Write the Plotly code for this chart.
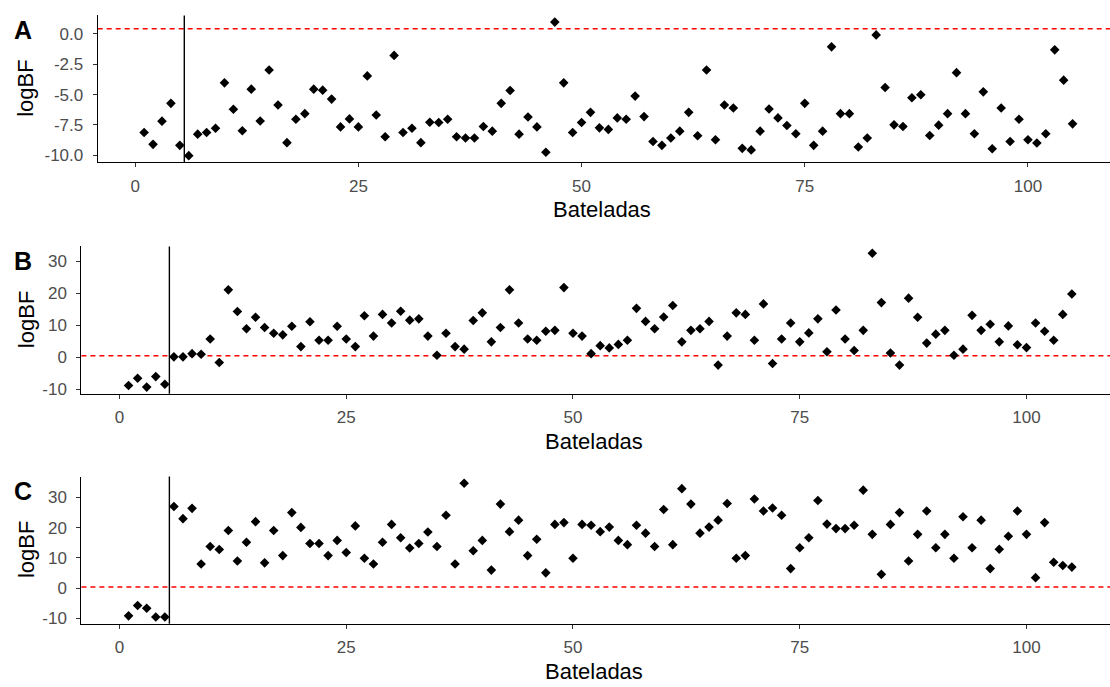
import plotly.graph_objects as go

# ---------------- data ----------------
batch = list(range(1, 106))

logbf_A = [-8.12, -9.10, -7.19, -5.72, -9.18, -10.03, -8.26, -8.12, -7.77, -4.03,
           -6.21, -7.98, -4.55, -7.17, -2.97, -5.86, -8.96, -7.03, -6.57, -4.55,
           -4.63, -5.37, -7.66, -7.00, -7.66, -3.46, -6.68, -8.47, -1.77, -8.12,
           -7.77, -8.96, -7.28, -7.30, -7.03, -8.47, -8.58, -8.58, -7.63, -8.01,
           -5.72, -4.66, -8.26, -6.84, -7.66, -9.75, 0.98, -4.03, -8.12, -7.30,
           -6.46, -7.74, -7.87, -6.92, -7.03, -5.12, -6.81, -8.86, -9.18, -8.58,
           -8.01, -6.46, -8.39, -2.97, -8.72, -5.86, -6.10, -9.43, -9.56, -8.01,
           -6.19, -6.92, -7.55, -8.23, -5.72, -9.18, -8.01, -1.06, -6.57, -6.57,
           -9.32, -8.58, -0.08, -4.41, -7.49, -7.63, -5.26, -5.01, -8.37, -7.52,
           -6.57, -3.19, -6.57, -8.23, -4.77, -9.46, -6.10, -8.86, -7.03, -8.72,
           -8.99, -8.23, -1.31, -3.81, -7.41]

logbf_B = [-8.9, -6.6, -9.4, -6.1, -8.5, 0.1, 0.1, 1.1, 0.9, 5.7,
           -1.7, 21.1, 14.3, 8.9, 12.5, 9.3, 7.5, 7.0, 9.7, 3.3,
           11.1, 5.3, 5.3, 9.7, 5.7, 3.3, 13.0, 6.6, 13.4, 10.7,
           14.4, 11.6, 12.0, 6.6, 0.6, 7.5, 3.3, 2.5, 11.5, 13.9,
           4.8, 9.3, 21.1, 10.7, 5.7, 5.3, 8.1, 8.4, 21.8, 7.5,
           6.6, 1.1, 3.6, 2.9, 4.0, 5.3, 15.3, 11.2, 8.9, 12.6,
           16.2, 4.8, 8.4, 8.9, 11.2, -2.5, 6.6, 13.9, 13.4, 5.3,
           16.7, -2.0, 5.7, 10.7, 4.8, 7.6, 12.0, 1.7, 14.8, 5.7,
           2.1, 8.4, 32.6, 17.1, 1.3, -2.5, 18.5, 12.5, 4.4, 7.2,
           8.4, 0.6, 2.5, 13.1, 8.4, 10.3, 4.8, 9.8, 3.9, 3.0,
           10.7, 8.1, 5.3, 13.4, 19.8]

logbf_C = [-9.1, -5.7, -6.6, -9.5, -9.5, 27.0, 23.0, 26.4, 8.0, 13.8,
           12.8, 19.1, 9.0, 15.2, 22.0, 8.4, 19.1, 10.8, 25.0, 20.1,
           14.8, 14.8, 10.8, 15.8, 11.8, 20.6, 9.9, 8.0, 15.2, 21.1,
           16.7, 13.3, 14.8, 18.6, 13.8, 24.1, 8.0, 34.7, 12.4, 15.8,
           6.0, 27.8, 18.7, 22.5, 10.8, 16.2, 5.1, 21.1, 21.7, 9.9,
           21.1, 20.8, 18.7, 20.2, 15.8, 14.4, 20.8, 18.2, 13.8, 26.0,
           14.4, 32.9, 27.8, 18.2, 20.2, 22.5, 28.0, 9.9, 10.8, 29.5,
           25.5, 26.5, 24.1, 6.5, 13.4, 16.7, 29.0, 21.2, 19.7, 19.7,
           20.8, 32.4, 17.8, 4.6, 21.1, 25.0, 9.0, 17.8, 25.5, 13.4,
           17.8, 9.9, 23.6, 13.4, 22.5, 6.5, 12.9, 17.2, 25.5, 17.8,
           3.5, 21.7, 8.6, 7.5, 7.0]

panel_labels = ["A", "B", "C"]
x_ticks = [0, 25, 50, 75, 100]
y_ticks_A = [-10, -7.5, -5, -2.5, 0]
y_ticktext_A = ["-10.0", "-7.5", "-5.0", "-2.5", "0.0"]
y_ticks_BC = [-10, 0, 10, 20, 30]
y_ticktext_BC = ["-10", "0", "10", "20", "30"]
threshold = 0.43      # red dashed line
cutoff_batch = 5.5    # black vertical line
x_title = "Bateladas"
y_title = "logBF"

# ---------------- layout geometry (pixels) ----------------
W, H = 1110, 687
FONT = "Liberation Sans, Arial, sans-serif"
panels = [
    dict(vals=logbf_A, left=97.7, top=15.5, bottom=163.5, tv=y_ticks_A, tt=y_ticktext_A),
    dict(vals=logbf_B, left=81.4, top=248.3, bottom=396.7, tv=y_ticks_BC, tt=y_ticktext_BC),
    dict(vals=logbf_C, left=81.4, top=480.0, bottom=628.3, tv=y_ticks_BC, tt=y_ticktext_BC),
]
full_right = 1119.0   # where the un-cropped panel would end
vis_right = 1110.0

def px_x(p):
    return p / W

def px_y(p):
    return 1 - p / H

fig = go.Figure()
annotations = []
shapes = []

xmin, xmax = min(batch), max(batch)
xspan = xmax - xmin
x_lo = xmin - 0.05 * xspan
x_hi = xmax + 0.05 * xspan

for i, p in enumerate(panels):
    n = "" if i == 0 else str(i + 1)
    xa, ya = "x" + n, "y" + n
    vals = p["vals"]
    vmin, vmax = min(vals + [threshold]), max(vals + [threshold])
    span = vmax - vmin
    y_lo, y_hi = vmin - 0.05 * span, vmax + 0.05 * span
    x_vis_hi = x_lo + (x_hi - x_lo) * (vis_right - p["left"]) / (full_right - p["left"])

    fig.add_trace(go.Scatter(
        x=batch, y=vals, mode="markers", xaxis=xa, yaxis=ya,
        marker=dict(symbol="diamond", size=7.4, color="black", line=dict(width=0)),
        hoverinfo="skip", showlegend=False,
    ))

    axis_common = dict(
        showline=True, linecolor="black", linewidth=1.1,
        ticks="outside", ticklen=4, tickwidth=1, tickcolor="#333333",
        tickfont=dict(family=FONT, size=17, color="#4D4D4D"),
        showgrid=False, zeroline=False, fixedrange=True,
    )
    fig.update_layout(**{
        "xaxis" + n: dict(
            domain=[px_x(p["left"]), px_x(vis_right)],
            range=[x_lo, x_vis_hi], anchor=ya,
            tickmode="array", tickvals=x_ticks, ticktext=[str(t) for t in x_ticks],
            ticklabelstandoff=4, **axis_common),
        "yaxis" + n: dict(
            domain=[px_y(p["bottom"]), px_y(p["top"])],
            range=[y_lo, y_hi], anchor=xa,
            tickmode="array", tickvals=p["tv"], ticktext=p["tt"],
            ticklabelstandoff=6, **axis_common),
    })

    # red dashed threshold line
    shapes.append(dict(type="line", xref=xa + " domain", yref=ya,
                       x0=0, x1=1, y0=threshold, y1=threshold,
                       line=dict(color="#FF0000", width=1.5, dash="5px,4px"),
                       layer="below"))
    # vertical cut-off line
    shapes.append(dict(type="line", xref=xa, yref=ya + " domain",
                       x0=cutoff_batch, x1=cutoff_batch, y0=0, y1=1,
                       line=dict(color="black", width=1.4), layer="below"))

    # titles
    center_x = (p["left"] + full_right) / 2
    annotations.append(dict(text=x_title, xref="paper", yref="paper",
                            x=px_x(center_x - 6), y=px_y(p["bottom"] + 48),
                            xanchor="center", yanchor="middle", showarrow=False,
                            font=dict(family=FONT, size=22, color="black")))
    annotations.append(dict(text=y_title, xref="paper", yref="paper",
                            x=px_x(26), y=px_y((p["top"] + p["bottom"]) / 2),
                            xanchor="center", yanchor="middle", textangle=-90,
                            showarrow=False,
                            font=dict(family=FONT, size=22, color="black")))
    annotations.append(dict(text="<b>" + panel_labels[i] + "</b>", xref="paper", yref="paper",
                            x=px_x(23), y=px_y(p["top"] + 15),
                            xanchor="center", yanchor="middle", showarrow=False,
                            font=dict(family=FONT, size=25, color="black")))

fig.update_layout(
    width=W, height=H, margin=dict(l=0, r=0, t=0, b=0),
    paper_bgcolor="white", plot_bgcolor="white",
    annotations=annotations, shapes=shapes, showlegend=False,
)

fig.write_html("out.html", config={"displayModeBar": False})
